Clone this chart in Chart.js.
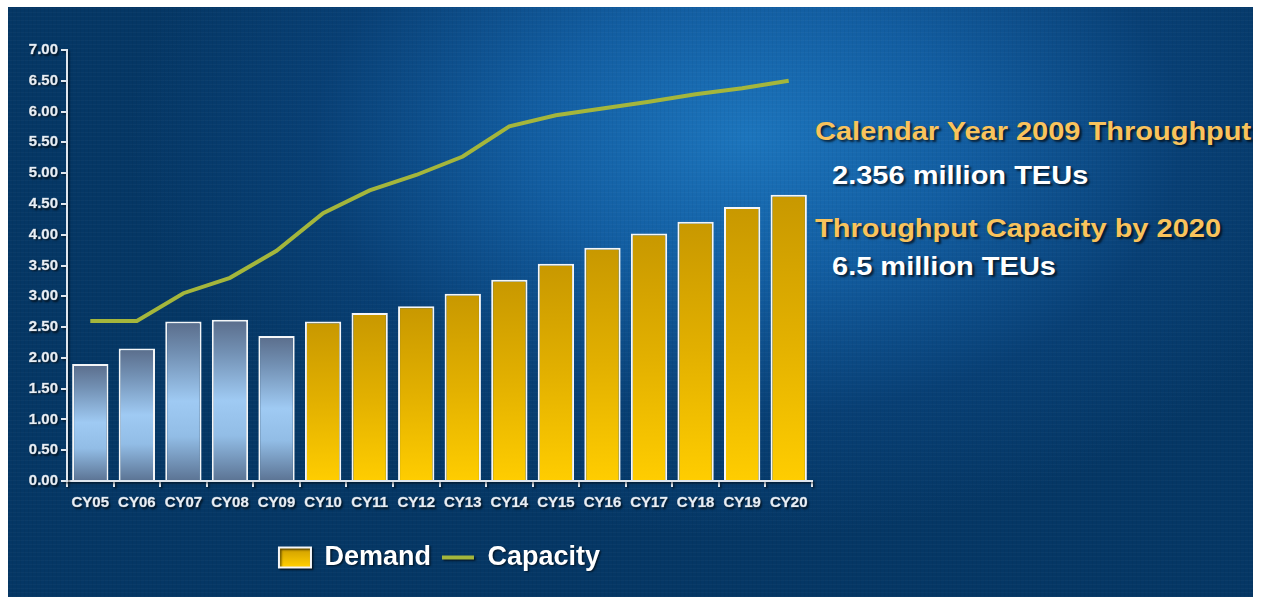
<!DOCTYPE html>
<html>
<head>
<meta charset="utf-8">
<script src="https://cdn.jsdelivr.net/npm/chart.js@4.4.1/dist/chart.umd.min.js"></script>
<style>
  html, body { margin: 0; padding: 0; background: #ffffff; overflow: hidden; }
  #slide {
    position: absolute; left: 8px; top: 7px; width: 1245px; height: 590px; overflow: hidden;
    background:
      repeating-linear-gradient(0deg, rgba(255,255,255,0.025) 0 1px, transparent 1px 4px),
      repeating-linear-gradient(90deg, rgba(0,0,0,0.035) 0 1px, transparent 1px 4px),
      radial-gradient(ellipse 620px 400px at 740px 130px, rgba(30,122,196,0.92) 0%, rgba(22,104,178,0.78) 35%, rgba(12,76,140,0.40) 70%, rgba(5,56,102,0) 100%),
      #053765;
  }
  #chart { position: absolute; left: 0; top: 0; }
  .note {
    position: absolute; font-family: "Liberation Sans", Arial, sans-serif; font-weight: bold;
    font-size: 25px; line-height: 25px; white-space: nowrap;
    transform: scaleX(1.16); transform-origin: left top;
    text-shadow: 2px 2px 2px rgba(0, 0, 0, 0.65);
  }
  .gold { color: #f9c35c; }
  .white { color: #ffffff; }
</style>
</head>
<body>
<div id="slide">
  <div class="note gold" style="left:807px; top:112px;">Calendar Year 2009 Throughput</div>
  <div class="note white" style="left:824px; top:156px;">2.356 million TEUs</div>
  <div class="note gold" style="left:807px; top:209px;">Throughput Capacity by 2020</div>
  <div class="note white" style="left:824px; top:247px;">6.5 million TEUs</div>
</div>
<canvas id="chart" width="1262" height="597"></canvas>
<script>
const years = ['CY05', 'CY06', 'CY07', 'CY08', 'CY09', 'CY10', 'CY11', 'CY12',
               'CY13', 'CY14', 'CY15', 'CY16', 'CY17', 'CY18', 'CY19', 'CY20'];
const demand = [1.90, 2.15, 2.59, 2.62, 2.356, 2.59, 2.73, 2.84,
                3.04, 3.27, 3.53, 3.79, 4.02, 4.21, 4.45, 4.65];
const capacity = [2.60, 2.60, 3.05, 3.30, 3.74, 4.35, 4.72, 4.97,
                  5.27, 5.76, 5.94, 6.05, 6.16, 6.28, 6.38, 6.50];
// first years are actuals (blue), the rest are forecasts (gold)
const actualCount = 5;

const axisColor = '#dfe6ee';
const tickColor = '#e8eef5';
const lineColor = '#a4b63c';

function barFill(context) {
    const chart = context.chart;
    const yScale = chart.scales.y;
    if (!yScale || context.type !== 'data') return '#e0b000';
    const top = yScale.getPixelForValue(context.raw);
    const base = yScale.getPixelForValue(0);
    if (!Number.isFinite(top) || !Number.isFinite(base)) return '#e0b000';
    const g = chart.ctx.createLinearGradient(0, top, 0, base);
    if (context.dataIndex < actualCount) {
        g.addColorStop(0, '#5a6d8b');
        g.addColorStop(0.2, '#7290b3');
        g.addColorStop(0.5, '#9fcaf3');
        g.addColorStop(0.72, '#92bde6');
        g.addColorStop(1, '#5b7393');
    } else {
        g.addColorStop(0, '#c89800');
        g.addColorStop(0.5, '#e2b000');
        g.addColorStop(1, '#ffcd00');
    }
    return g;
}

// drop shadow under axes, ticks and legend text (switched off before the bars)
const textShadow = {
    id: 'textShadow',
    beforeDraw(chart) {
        const c = chart.ctx;
        c.save();
        c.shadowColor = 'rgba(0, 0, 0, 0.6)';
        c.shadowOffsetX = 1.5;
        c.shadowOffsetY = 1.5;
        c.shadowBlur = 2;
    },
    beforeDatasetsDraw(chart) {
        chart.ctx.restore();
    }
};

const tickFont = { family: 'Liberation Sans, Arial', weight: 'bold', size: 15 };

const ctx = document.getElementById('chart');

new Chart(ctx, {
    type: 'bar',
    data: {
        labels: years,
        datasets: [{
            type: 'bar',
            label: 'Demand',
            data: demand,
            backgroundColor: barFill,
            borderColor: '#f4f6f8',
            borderWidth: 2,
            barPercentage: 0.78,
            categoryPercentage: 1,
            order: 2,
            pointStyle: 'rect'
        }, {
            type: 'line',
            label: 'Capacity',
            data: capacity,
            borderColor: lineColor,
            backgroundColor: lineColor,
            borderWidth: 4,
            pointRadius: 0,
            tension: 0,
            order: 1,
            pointStyle: 'line'
        }]
    },
    options: {
        responsive: false,
        animation: false,
        devicePixelRatio: 1,
        layout: {
            padding: { left: 8, top: 50, right: 450, bottom: 16 }
        },
        scales: {
            x: {
                grid: {
                    offset: true,
                    drawOnChartArea: false,
                    color: axisColor,
                    lineWidth: 2,
                    tickLength: 6
                },
                border: { color: axisColor, width: 2 },
                ticks: {
                    color: tickColor,
                    padding: 7,
                    font: tickFont,
                    textStrokeColor: 'rgba(230, 238, 245, 0.6)',
                    textStrokeWidth: 0.6
                },
                afterFit: scale => { scale.height = 52; }
            },
            y: {
                min: 0,
                max: 7,
                grid: {
                    drawOnChartArea: false,
                    color: axisColor,
                    lineWidth: 2,
                    tickLength: 6
                },
                border: { color: axisColor, width: 2 },
                ticks: {
                    stepSize: 0.5,
                    color: tickColor,
                    padding: 3,
                    font: tickFont,
                    textStrokeColor: 'rgba(230, 238, 245, 0.6)',
                    textStrokeWidth: 0.6,
                    callback: value => value.toFixed(2)
                },
                afterFit: scale => { scale.width = 59; }
            }
        },
        plugins: {
            legend: {
                position: 'bottom',
                fullSize: false,
                labels: {
                    usePointStyle: true,
                    pointStyleWidth: 32,
                    boxHeight: 20,
                    padding: 11,
                    color: '#ffffff',
                    font: { family: 'Liberation Sans, Arial', weight: 'bold', size: 27 },
                    sort: (a, b) => a.datasetIndex - b.datasetIndex,
                    generateLabels: chart => {
                        const items = Chart.defaults.plugins.legend.labels.generateLabels(chart);
                        const bars = items.find(item => item.datasetIndex === 0);
                        // swatch for the bars uses the forecast gold
                        const g = chart.ctx.createLinearGradient(0, 546, 0, 566);
                        g.addColorStop(0, '#c89800');
                        g.addColorStop(1, '#ffcd00');
                        bars.fillStyle = g;
                        bars.strokeStyle = '#f4f6f8';
                        bars.lineWidth = 2;
                        return items;
                    }
                }
            },
            tooltip: { enabled: false }
        }
    },
    plugins: [textShadow]
});
</script>
</body>
</html>
